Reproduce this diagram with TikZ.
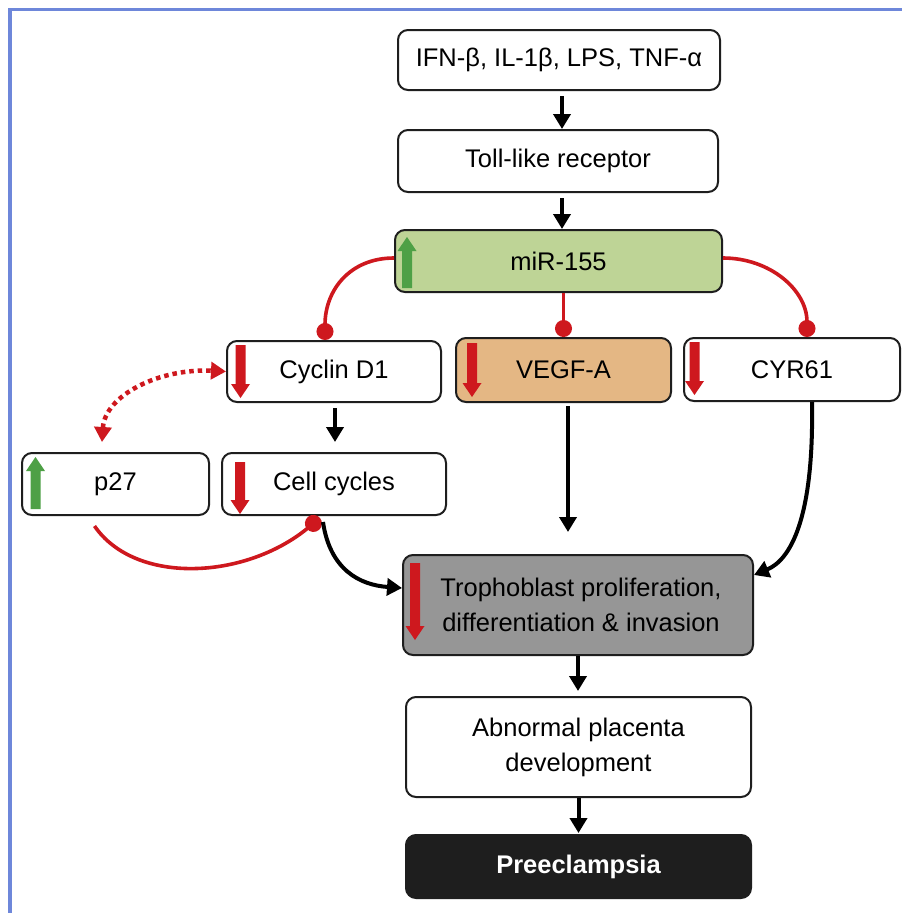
\documentclass[tikz,border=0pt]{standalone}
\usepackage{fontspec}
\setmainfont{Liberation Sans}
\usetikzlibrary{arrows.meta,calc}
\definecolor{framecol}{RGB}{110,135,218}
\definecolor{mirfill}{RGB}{190,212,150}
\definecolor{vegffill}{RGB}{228,183,132}
\definecolor{trofill}{RGB}{150,150,150}
\definecolor{prefill}{RGB}{30,30,30}
\definecolor{inhred}{RGB}{206,24,30}
\definecolor{upgreen}{RGB}{78,160,70}
\definecolor{edgecol}{RGB}{30,30,30}
\newcommand\dnarr[3]{\fill[inhred] ({#1-5},#2) -- ({#1+5},#2) -- ({#1+5},{#3-14}) -- ({#1+9.5},{#3-14}) -- (#1,#3) -- ({#1-9.5},{#3-14}) -- ({#1-5},{#3-14}) -- cycle;}
\newcommand\uparr[3]{\fill[upgreen] ({#1-5},#3) -- ({#1+5},#3) -- ({#1+5},{#2+14}) -- ({#1+9.5},{#2+14}) -- (#1,#2) -- ({#1-9.5},{#2+14}) -- ({#1-5},{#2+14}) -- cycle;}
\begin{document}
\begin{tikzpicture}[x=1pt,y=-1pt,
  box/.style={draw=edgecol, line width=2pt, rounded corners=10pt, fill=white,
    font=\fontsize{25.5}{35}\selectfont, inner sep=0pt, align=center},
  blk/.style={line width=4pt, draw=black, -{Triangle[length=15pt,width=17pt]}},
  inh/.style={line width=3.6pt, draw=inhred, -{Circle[length=17pt,fill=inhred]}},
  dots/.style={line width=4.5pt, draw=inhred, dash pattern=on 4.5pt off 4pt,
    {Triangle[length=15pt,width=17pt]}-{Triangle[length=15pt,width=17pt]}}
]
\useasboundingbox (0,0) rectangle (902,913);
\fill[white] (0,0) rectangle (902,913);
\draw[framecol, line width=3.5pt] (10,913) -- (10,9.5) -- (902,9.5);

% nodes
\node[box, minimum width=322pt, minimum height=60pt] (ifn) at (559,60) {IFN-β, IL-1β, LPS, TNF-α};
\node[box, minimum width=320pt, minimum height=62pt] (toll) at (558,161) {Toll-like receptor};
\node[box, fill=mirfill, minimum width=327pt, minimum height=62pt] (mir) at (558.5,261) {miR-155};
\node[box, minimum width=214pt, minimum height=61pt] (cyc) at (334,371.5) {Cyclin D1};
\node[box, fill=vegffill, minimum width=215pt, minimum height=64pt] (vegf) at (563.5,370) {VEGF-A};
\node[box, minimum width=216pt, minimum height=63pt] (cyr) at (792,369.5) {CYR61};
\node[box, minimum width=187pt, minimum height=62pt] (p27) at (115.5,484) {p27};
\node[box, minimum width=224pt, minimum height=62pt] (cc) at (334,484) {Cell cycles};
\node[box, fill=trofill, minimum width=350pt, minimum height=100pt] (tro) at (578,605) {\hspace*{6pt}Trophoblast proliferation,\\\hspace*{6pt}differentiation \& invasion};
\node[box, minimum width=345pt, minimum height=100pt] (abn) at (578.5,747) {Abnormal placenta\\development};
\node[box, fill=prefill, text=white, font=\fontsize{25.5}{35}\selectfont\bfseries, minimum width=345pt, minimum height=63pt] (pre) at (578.5,866.5) {Preeclampsia};

% up/down arrows inside boxes
\uparr{407}{237}{288}
\uparr{35.5}{457}{509}
\dnarr{240.5}{345}{398}
\dnarr{240}{462}{514}
\dnarr{472}{343}{397}
\dnarr{694.5}{342}{395}
\dnarr{415}{563}{640}

% connectors
\draw[blk] ($(ifn.south)+(3,5)$) -- ($(toll.north)+(4,0)$);
\draw[blk] ($(toll.south)+(4,5)$) -- ($(mir.north)+(3.5,0)$);
\draw[inh] ($(mir.west)+(0,-3)$) .. controls (350,258) and (325,290) .. ($(cyc.north)+(-9,0)$);
\draw[inh] (mir.south -| vegf.north) -- (vegf.north);
\draw[inh] ($(mir.east)+(0,-3)$) .. controls (770,258) and (807,290) .. ($(cyr.north)+(15,0)$);
\draw[blk] ($(cyc.south)+(1,5)$) -- ($(cc.north)+(1,-10)$);
\draw[dots] ($(p27.north)+(-13.5,-10)$) .. controls (105,395) and (160,368) .. (cyc.west);
\draw[inh] ($(p27.south)+(-21,10)$) .. controls (135,585) and (245,580) .. ($(cc.south)+(-14,2)$);
\draw[blk] ($(cc.south)+(-11,6)$) .. controls (330,570) and (360,585) .. ($(tro.west)+(0,-17)$);
\draw[blk] ($(vegf.south)+(4.5,3)$) -- ($(tro.north)+(-10,-22)$);
\draw[blk] ($(cyr.south)+(20,0)$) .. controls (814,520) and (790,560) .. ($(tro.east)+(0,-30)$);
\draw[blk] (tro.south) -- ($(abn.north)+(-0.5,-5)$);
\draw[blk] (abn.south) -- ($(pre.north)+(0,-1)$);
\end{tikzpicture}
\end{document}
